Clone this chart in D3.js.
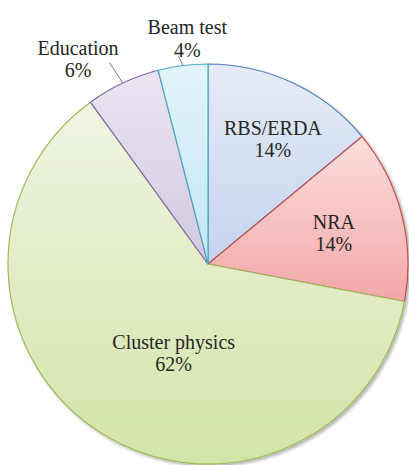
<!DOCTYPE html>
<html>
<head>
<meta charset="utf-8">
<script src="https://cdn.jsdelivr.net/npm/d3@7"></script>
</head>
<body style="margin:0">
<div id="chart-area"></div>
<script>
let width = 409,
    height = 465;

// data
let categories = ["RBS/ERDA", "NRA", "Cluster physics", "Education", "Beam test"];
let shares = [14, 14, 62, 6, 4];

// look
let strokeColors = ["#4f81bd", "#c0504d", "#9bbb59", "#8064a2", "#4bacc6"];
let topColors = ["#e6ecf7", "#fcdede", "#f0f5e3", "#ebe5f1", "#e2f4fa"];
let bottomColors = ["#c5d3ee", "#f3a7a7", "#d3e4a8", "#d3c8e2", "#c3e8f4"];
// label placement: radius factor and angle tweak (deg), leader length factor for outside labels
let labelPlace = [
  {r: 0.71, da: 2, leader: 0},
  {r: 0.65, da: 0, leader: 0},
  {r: 0.47, da: -11, leader: 0},
  {r: 1.22, da: -7, leader: 1.12},
  {r: 1.14, da: 2, leader: 1.05}
];

let cx = 208, cy = 264, radius = 200;

let svg = d3.select("#chart-area").append("svg")
    .attr("width", width)
    .attr("height", height);

let defs = svg.append("defs");

let shadow = defs.append("filter")
    .attr("id", "shadow")
    .attr("x", "-10%").attr("y", "-10%")
    .attr("width", "120%").attr("height", "120%");
shadow.append("feDropShadow")
    .attr("dx", 2).attr("dy", 2)
    .attr("stdDeviation", 1.5)
    .attr("flood-color", "#000")
    .attr("flood-opacity", 0.3);

categories.forEach(function(c, i) {
  let g = defs.append("linearGradient")
      .attr("id", "grad" + i)
      .attr("x1", 0).attr("y1", 0)
      .attr("x2", 0).attr("y2", 1);
  g.append("stop").attr("offset", "0%").attr("stop-color", topColors[i]);
  g.append("stop").attr("offset", "100%").attr("stop-color", bottomColors[i]);
});

let pie = d3.pie().sort(null).value(function(d) { return d; });
let arcs = pie(shares);

let arc = d3.arc().innerRadius(0).outerRadius(radius);

let chart = svg.append("g")
    .attr("transform", "translate(" + cx + "," + cy + ")");

let slices = chart.append("g").attr("filter", "url(#shadow)");

slices.selectAll("path")
    .data(arcs)
    .enter().append("path")
    .attr("d", arc)
    .attr("fill", function(d, i) { return "url(#grad" + i + ")"; })
    .attr("stroke", function(d, i) { return strokeColors[i]; })
    .attr("stroke-width", 1.2)
    .attr("stroke-linejoin", "round");

// absolute page coords for a point on the pie
function polar(r, a) {
  return [cx + r * Math.sin(a), cy - r * Math.cos(a)];
}

let labels = svg.append("g");

// labels, one text element per line, centred by measuring
arcs.forEach(function(d, i) {
  let p = labelPlace[i];
  let mid = (d.startAngle + d.endAngle) / 2;
  let a = mid + p.da * Math.PI / 180;
  let pos = polar(radius * p.r, a);

  if (p.leader) {
    let inner = polar(radius, mid);
    let outer = polar(radius * p.leader, mid - 0.015);
    labels.append("line")
        .attr("x1", inner[0]).attr("y1", inner[1])
        .attr("x2", outer[0]).attr("y2", outer[1])
        .attr("stroke", "#7f7f7f")
        .attr("stroke-width", 1);
  }

  [categories[i], shares[i] + "%"].forEach(function(line, k) {
    let t = labels.append("text")
        .attr("x", pos[0])
        .attr("y", pos[1] - 3 + k * 22.6)
        .attr("font-size", 20)
        .style("font-family", "'Liberation Serif'")
        .attr("fill", "#262626")
        .text(line);
    let w = t.node().getComputedTextLength();
    t.attr("x", pos[0] - w / 2);
  });
});
</script>
</body>
</html>
